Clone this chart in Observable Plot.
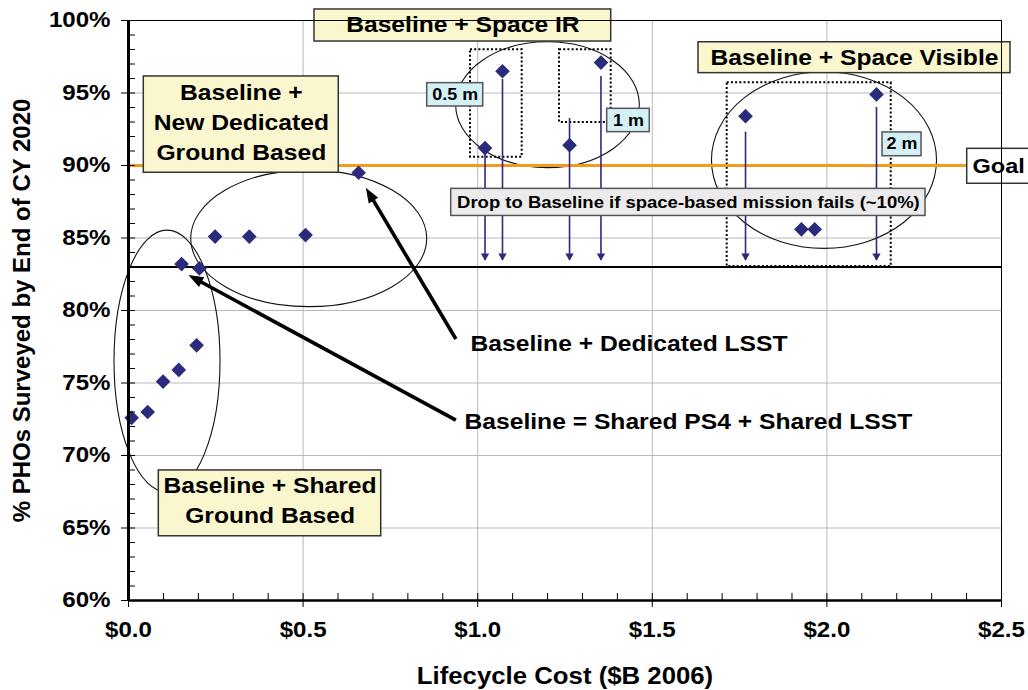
<!DOCTYPE html>
<html>
<head>
<meta charset="utf-8">
<script src="https://cdn.jsdelivr.net/npm/d3@7"></script>
<script src="https://cdn.jsdelivr.net/npm/@observablehq/plot@0.6"></script>
<style>
  html, body { margin: 0; padding: 0; background: #ffffff; }
  svg { display: block; }
</style>
</head>
<body>
<div id="chart"></div>
<script>
// ---------------- DATA ----------------
const xTicks = [0, 0.5, 1.0, 1.5, 2.0, 2.5];
const xTickLabels = ["$0.0", "$0.5", "$1.0", "$1.5", "$2.0", "$2.5"];
const yTicks = [60, 65, 70, 75, 80, 85, 90, 95, 100];
const yTickLabels = ["60%", "65%", "70%", "75%", "80%", "85%", "90%", "95%", "100%"];
const xTitle = "Lifecycle Cost ($B 2006)";
const yTitle = "% PHOs Surveyed by End of CY 2020";

// Baseline + shared ground based
const sharedGroundCost = [0.009, 0.055, 0.099, 0.144, 0.195, 0.152, 0.203];
const sharedGroundPct  = [72.6, 73.0, 75.1, 75.9, 77.6, 83.2, 82.9];
// Baseline + new dedicated ground based
const dedicatedGroundCost = [0.248, 0.346, 0.507, 0.659];
const dedicatedGroundPct  = [85.1, 85.1, 85.2, 89.5];
// Baseline + space IR
const spaceIRCost = [1.021, 1.071, 1.263, 1.353];
const spaceIRPct  = [91.2, 96.5, 91.4, 97.1];
// Baseline + space visible
const spaceVisCost = [1.767, 2.142, 1.927, 1.965];
const spaceVisPct  = [93.4, 94.9, 85.6, 85.6];

// Drop-to-baseline arrows (space-based mission fails)
const dropCost    = [1.021, 1.071, 1.263, 1.353, 1.767, 2.142];
const dropFromPct = [90.85, 95.93, 93.24, 96.14, 92.30, 94.0];
const dropToPct   = 83.45;

const goalPct = 90;
const baselinePct = 83;

const groupLabels = [
  ["Baseline +", "New Dedicated", "Ground Based"],
  ["Baseline + Shared", "Ground Based"],
  ["Baseline + Space IR"],
  ["Baseline + Space Visible"]
];
const apertureLabels = ["0.5 m", "1 m", "2 m"];
const calloutLabels = ["Baseline + Dedicated LSST", "Baseline = Shared PS4 + Shared LSST"];
const goalLabel = "Goal";
const dropLabel = "Drop to Baseline if space-based mission fails (~10%)";

// ---------------- LAYOUT (annotation geometry in data units) ----------------
const points = [
  ...sharedGroundCost.map((c, i) => ({cost: c, pct: sharedGroundPct[i]})),
  ...dedicatedGroundCost.map((c, i) => ({cost: c, pct: dedicatedGroundPct[i]})),
  ...spaceIRCost.map((c, i) => ({cost: c, pct: spaceIRPct[i]})),
  ...spaceVisCost.map((c, i) => ({cost: c, pct: spaceVisPct[i]}))
];
const drops = dropCost.map((c, i) => ({cost: c, from: dropFromPct[i], to: dropToPct}));

const groupBoxes = [
  {x1: 0.0438, x2: 0.6022, y1: 96.14, y2: 89.50, tx: 0.3230, ty: 92.92, gap: 2.07},
  {x1: 0.0868, x2: 0.7237, y1: 68.97, y2: 64.43, tx: 0.4053, ty: 66.87, gap: 2.12},
  {x1: 0.5326, x2: 1.3823, y1: 100.76, y2: 98.55, tx: 0.9576, ty: 99.66, gap: 0},
  {x1: 1.6323, x2: 2.5258, y1: 98.50, y2: 96.37, tx: 2.0790, ty: 97.43, gap: 0}
];
const groupLines = groupBoxes.flatMap((b, i) => {
  const lines = groupLabels[i], n = lines.length;
  return lines.map((text, j) => ({text, tx: b.tx, ty: b.ty + ((n - 1) / 2 - j) * b.gap}));
});

const apertureBoxes = [
  {x1: 0.8554, x2: 1.0158, y1: 95.68, y2: 94.07, tx: 0.9356, ty: 94.88},
  {x1: 1.3708, x2: 1.4928, y1: 93.91, y2: 92.30, tx: 1.4318, ty: 93.10},
  {x1: 2.1592, x2: 2.2709, y1: 92.28, y2: 90.64, tx: 2.2151, ty: 91.46}
].map((b, i) => ({...b, text: apertureLabels[i]}));

const dottedBoxes = [
  {x1: 0.9794, x2: 1.1274, y1: 97.98, y2: 90.57},
  {x1: 1.2343, x2: 1.3823, y1: 97.98, y2: 92.97},
  {x1: 1.7145, x2: 2.1842, y1: 95.70, y2: 83.03}
];

const ellipses = [
  {cx: 0.1117, cy: 76.48, rx: 0.1518, ry: 9.03},
  {cx: 0.5175, cy: 84.94, rx: 0.3379, ry: 4.71},
  {cx: 1.2013, cy: 94.16, rx: 0.2629, ry: 4.34},
  {cx: 1.9931, cy: 90.34, rx: 0.3222, ry: 6.09}
];

const goalBox = {x1: 2.4018, x2: 2.70, y1: 91.15, y2: 88.74, tx: 2.417, ty: 89.94, text: goalLabel};
const dropBox = {x1: 0.9241, x2: 2.2824, y1: 88.39, y2: 86.52, tx: 1.6034, ty: 87.46, text: dropLabel};

const callouts = [
  {x1: 0.939, y1: 78.0, x2: 0.681, y2: 88.43, tx: 0.9794, ty: 77.72},
  {x1: 0.939, y1: 72.41, x2: 0.173, y2: 82.41, tx: 0.9622, ty: 72.34}
].map((c, i) => ({...c, text: calloutLabels[i]}));

// ---------------- STYLE ----------------
const FONT = "'Liberation Sans', Arial, Helvetica, sans-serif";
const NAVY = "#2b2b7b";
const ORANGE = "#f39a1f";
const GRID = "#b8b8b8";
const YELLOW = "#faf7cf";
const CYAN = "#d3f0f4";
const DROPFILL = "#ebebeb";
const STRETCH = 1.12; // the reference's lettering is horizontally widened

const ellipseMark = (index, scales) => {
  const {x, y} = scales;
  const g = d3.create("svg:g")
    .attr("fill", "none").attr("stroke", "#111").attr("stroke-width", 1.1);
  for (const e of ellipses) {
    g.append("ellipse")
      .attr("cx", x(e.cx)).attr("cy", y(e.cy))
      .attr("rx", Math.abs(x(e.cx + e.rx) - x(e.cx)))
      .attr("ry", Math.abs(y(e.cy + e.ry) - y(e.cy)));
  }
  return g.node();
};

const calloutArrowMark = (index, scales) => {
  const {x, y} = scales;
  const g = d3.create("svg:g").attr("fill", "#000").attr("stroke", "#000");
  for (const a of callouts) {
    const X1 = x(a.x1), Y1 = y(a.y1), X2 = x(a.x2), Y2 = y(a.y2);
    const dx = X2 - X1, dy = Y2 - Y1, L = Math.hypot(dx, dy), ux = dx / L, uy = dy / L;
    const hl = 15, hw = 5.5;
    const bx = X2 - ux * hl, by = Y2 - uy * hl;
    g.append("line").attr("x1", X1).attr("y1", Y1).attr("x2", bx + ux * 2).attr("y2", by + uy * 2)
      .attr("stroke-width", 3.6);
    g.append("path").attr("stroke", "none")
      .attr("d", `M${X2},${Y2}L${bx - uy * hw},${by + ux * hw}L${bx + uy * hw},${by - ux * hw}Z`);
  }
  return g.node();
};

const chart = Plot.plot({
  width: 1028,
  height: 690,
  marginLeft: 128,
  marginRight: 27,
  marginTop: 20,
  marginBottom: 90,
  style: {fontFamily: FONT, background: "#ffffff", overflow: "visible", color: "#000"},
  x: {domain: [0, 2.5]},
  y: {domain: [60, 100]},
  marks: [
    // grid
    Plot.ruleY(yTicks.slice(1, -1), {stroke: GRID, strokeWidth: 1}),
    Plot.ruleX(xTicks.slice(1, -1), {stroke: GRID, strokeWidth: 1}),
    // ellipses & dotted groups
    ellipseMark,
    Plot.rect(dottedBoxes, {x1: "x1", x2: "x2", y1: "y1", y2: "y2", fill: "none", stroke: "#000", strokeWidth: 2, strokeDasharray: "2,2.2"}),
    // goal & baseline lines
    Plot.ruleY([goalPct], {x1: 0, x2: goalBox.x1, stroke: ORANGE, strokeWidth: 3}),
    Plot.ruleY([baselinePct], {stroke: "#000", strokeWidth: 2}),
    // drop arrows
    Plot.ruleX(drops, {x: "cost", y1: "from", y2: "to", stroke: NAVY, strokeWidth: 1.6}),
    Plot.dot(drops, {x: "cost", y: "to", symbol: "triangle", rotate: 180, r: 3.1, dy: -4.5, fill: NAVY, stroke: "none"}),
    // data points
    Plot.dot(points, {x: "cost", y: "pct", symbol: "diamond2", r: 6.6, fill: NAVY, stroke: "none"}),
    // callout arrows
    calloutArrowMark,
    Plot.text(callouts, {x: "tx", y: "ty", text: "text", textAnchor: "start", fontSize: 22, fontWeight: "bold", fill: "#000"}),
    // label boxes
    Plot.rect(groupBoxes, {x1: "x1", x2: "x2", y1: "y1", y2: "y2", fill: YELLOW, stroke: "#333", strokeWidth: 1.5}),
    Plot.text(groupLines, {x: "tx", y: "ty", text: "text", fontSize: 22, fontWeight: "bold", fill: "#000"}),
    Plot.rect([dropBox], {x1: "x1", x2: "x2", y1: "y1", y2: "y2", fill: DROPFILL, stroke: "#555", strokeWidth: 1.5}),
    Plot.text([dropBox], {x: "tx", y: "ty", text: "text", fontSize: 16.5, fontWeight: "bold", fill: "#000"}),
    Plot.rect(apertureBoxes, {x1: "x1", x2: "x2", y1: "y1", y2: "y2", fill: CYAN, stroke: "#555", strokeWidth: 1.5}),
    Plot.text(apertureBoxes, {x: "tx", y: "ty", text: "text", fontSize: 16, fontWeight: "bold", fill: "#000"}),
    Plot.rect([goalBox], {x1: "x1", x2: "x2", y1: "y1", y2: "y2", fill: "#fff", stroke: "#333", strokeWidth: 1.5}),
    Plot.text([goalBox], {x: "tx", y: "ty", text: "text", textAnchor: "start", fontSize: 21, fontWeight: "bold", fill: "#000"}),
    // frame (thin top/right)
    Plot.frame({stroke: "#000", strokeWidth: 1}),
    // axes
    Plot.axisY({ticks: yTicks, tickFormat: d => yTickLabels[yTicks.indexOf(d)], tickSize: 7, tickPadding: 11,
      fontSize: 21.5, fontWeight: "bold", label: null, stroke: "#000"}),
    Plot.axisY({ticks: d3.range(60, 100.5, 1), tickSize: 7, dx: 7, tickFormat: () => "", label: null, stroke: "#000"}),
    Plot.axisX({ticks: xTicks, tickFormat: d => xTickLabels[xTicks.indexOf(d)], tickSize: 7, tickPadding: 14,
      fontSize: 21.5, fontWeight: "bold", label: null, stroke: "#000"}),
    Plot.axisX({ticks: d3.range(0, 2.55, 0.1), tickSize: 7, dy: -7, tickFormat: () => "", label: null, stroke: "#000"}),
    Plot.ruleX([0], {stroke: "#000", strokeWidth: 3}),
    Plot.ruleY([60], {stroke: "#000", strokeWidth: 2.5}),
    // axis titles
    Plot.text([yTitle], {frameAnchor: "left", dx: -106, rotate: -90, textAnchor: "middle", lineAnchor: "middle",
      fontSize: 24, fontWeight: "bold", fill: "#000"}),
    Plot.text([xTitle], {frameAnchor: "bottom", dy: 76, textAnchor: "middle", lineAnchor: "middle",
      fontSize: 23, fontWeight: "bold", fill: "#000"})
  ]
});

document.getElementById("chart").appendChild(chart);

// widen horizontal lettering to match the reference's proportions
chart.querySelectorAll("text").forEach(t => {
  if ((t.getAttribute("transform") || "").includes("rotate")) return;
  if (!t.textContent) return;
  const len = t.getComputedTextLength();
  if (len > 0) {
    t.setAttribute("textLength", (len * STRETCH).toFixed(1));
    t.setAttribute("lengthAdjust", "spacingAndGlyphs");
  }
});
</script>
</body>
</html>
